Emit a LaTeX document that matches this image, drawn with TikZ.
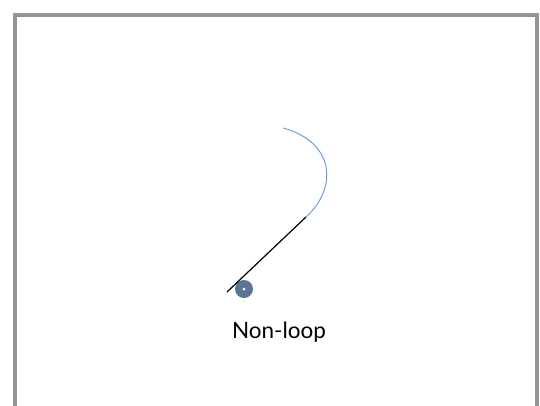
\documentclass[tikz,border=0pt]{standalone}
\usepackage{fontspec}
\setmainfont{Lato}
\usepackage{xcolor}
\usepackage{tikz}
\usetikzlibrary{positioning}
\definecolor{framegray}{HTML}{959595}
\definecolor{ballblue}{HTML}{5A7694}
\definecolor{curveblue}{HTML}{6F9FD8}
\tikzstyle{frame} = [draw=framegray, line width=4pt]
\tikzstyle{ball} = [circle, minimum size=18pt, inner sep=0pt, fill=ballblue]
\tikzstyle{hole} = [circle, minimum size=3pt, inner sep=0pt, fill=white]
\tikzstyle{rod} = [black, line width=1.2pt]
\tikzstyle{curve} = [curveblue, line width=1pt]
\tikzstyle{caption} = [font=\fontsize{22.5}{26}\selectfont, text=black]

\begin{document}
\begin{tikzpicture}[x=1pt, y=-1pt]

\useasboundingbox (0,0) rectangle (540,405);
\begin{scope}
\clip (0,0) rectangle (540,405);
\draw [frame] (15,15) rectangle (537,430);
\end{scope}

\coordinate (start) at (227,292);
\coordinate (bend) at (306,217);
\coordinate (tip) at (283,128);

\node (ball) [ball] at (244,289) {};
\node (dot) [hole] at (ball.center) {};
\node (label) [caption] at (279,332) {Non-loop};

\draw [rod] (start) -- (bend);
\draw [curve] (bend) .. controls (338,188) and (335,142) .. (tip);

\end{tikzpicture}
\end{document}
